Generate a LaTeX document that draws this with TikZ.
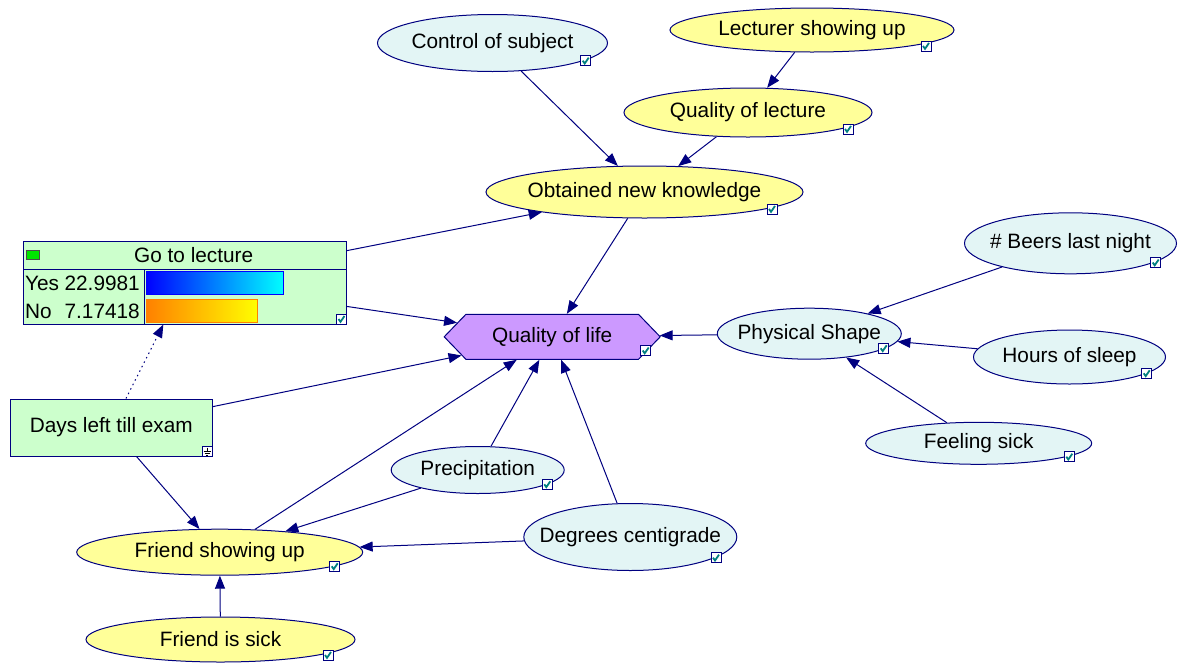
\documentclass[tikz,border=0pt]{standalone}
\usepackage{fontspec}
\setmainfont{Liberation Sans}
\usetikzlibrary{shapes.geometric,shapes.symbols,arrows.meta}
\definecolor{navy}{HTML}{000080}
\definecolor{yelfill}{HTML}{FFFF99}
\definecolor{cynfill}{HTML}{E3F5F5}
\definecolor{grnfill}{HTML}{CCFFCC}
\definecolor{purpfill}{HTML}{CC99FF}
\definecolor{chkteal}{HTML}{008080}
\definecolor{barorange}{HTML}{FF8000}
\newcommand\fsz{\fontsize{20.8}{24}\selectfont}
\newcommand\nw[1]{\makebox[0pt][c]{#1}}
\tikzset{
  ell/.style={ellipse, draw=navy, line width=1pt, inner sep=0pt, font=\fsz, text=black},
  yel/.style={ell, fill=yelfill},
  cyn/.style={ell, fill=cynfill},
  conn/.style={draw=navy, line width=1pt, -{Triangle[length=13pt,width=10pt]}},
  txt/.style={inner sep=0pt, font=\fsz, text=black},
  chk/.pic={
    \draw[navy, line width=1pt, fill=white] (-5,-5) rectangle (5,5);
    \draw[chkteal, line width=1.8pt] (-3,0) -- (-1,2.8) -- (3,-3);
  },
  gnd/.pic={
    \draw[navy, line width=1pt, fill=white] (-5,-5) rectangle (5,5);
    \draw[black, line width=0.8pt] (0,-4) -- (0,0) (-3.5,0) -- (3.5,0) (-2.5,2) -- (2.5,2) (-1,4) -- (1,4);
  }
}
\begin{document}
\begin{tikzpicture}[x=1pt,y=-1pt]
\useasboundingbox[fill=white] (0,0) rectangle (1186,670);

% ellipse nodes
\node[cyn, minimum width=230, minimum height=57] (ctrl) at (492.5,43) {\nw{Control of subject}};
\node[yel, minimum width=284, minimum height=44] (lect) at (812,30) {\nw{Lecturer showing up}};
\node[yel, minimum width=248, minimum height=49] (qlec) at (748,112.5) {\nw{Quality of lecture}};
\node[yel, minimum width=317, minimum height=52] (obt) at (644.5,192) {\nw{Obtained new knowledge}};
\node[cyn, minimum width=184, minimum height=51] (phys) at (809.3,333.7) {\nw{Physical Shape}};
\node[cyn, minimum width=212, minimum height=61] (beer) at (1070.5,243.3) {\nw{\# Beers last night}};
\node[cyn, minimum width=192, minimum height=54] (hrs) at (1069.5,357) {\nw{Hours of sleep}};
\node[cyn, minimum width=226, minimum height=42] (feel) at (978.7,443.3) {\nw{Feeling sick}};
\node[cyn, minimum width=173, minimum height=47] (prec) at (477.7,470) {\nw{Precipitation}};
\node[cyn, minimum width=213, minimum height=67] (deg) at (630.3,537) {\nw{Degrees centigrade}};
\node[yel, minimum width=286, minimum height=46] (fsu) at (219.7,552.2) {\nw{Friend showing up}};
\node[yel, minimum width=269, minimum height=45] (fis) at (220.5,639.5) {\nw{Friend is sick}};

% hexagon
\node[signal, signal to=east and west, signal pointer angle=92, draw=navy, fill=purpfill,
      line width=1pt, minimum width=216, minimum height=45, inner sep=0pt, font=\fsz] (qol)
      at (552.2,336.8) {Quality of life};

% Days left box
\node[rectangle, draw=navy, fill=grnfill, line width=1pt, minimum width=202, minimum height=57,
      inner sep=0pt, font=\fsz] (days) at (111.3,427.5) {Days left till exam};

% Go to lecture box
\node[rectangle, draw=navy, fill=grnfill, line width=1pt, minimum width=323, minimum height=83,
      inner sep=0pt] (go) at (184.5,282.5) {};
\draw[navy, line width=1pt] (23,269) -- (346,269) (144,269) -- (144,324);
\draw[black!70, fill={rgb,255:red,0;green,230;blue,0}, line width=0.8pt] (26,250) rectangle (39,259);
\node[txt] (golbl) at (193.7,255) {Go to lecture};
\node[txt, anchor=west] (yeslbl) at (25,283) {Yes};
\node[txt, anchor=east] (yesval) at (140,283) {22.9981};
\node[txt, anchor=west] (nolbl) at (25,311) {No};
\node[txt, anchor=east] (noval) at (140,311) {7.17418};
\shade[left color=blue, right color=cyan] (146,271) rectangle (283.7,294.3);
\draw[blue, line width=1pt] (146,271) rectangle (283.7,294.3);
\shade[left color=barorange, right color=yellow] (146,299) rectangle (257.7,322.5);
\draw[barorange, line width=1pt] (146,299) rectangle (257.7,322.5);

% icons
\pic at (585.7,60.7) {chk};
\pic at (926,46) {chk};
\pic at (848,129) {chk};
\pic at (772,209) {chk};
\pic at (883.7,348.3) {chk};
\pic at (1155.7,262.5) {chk};
\pic at (1146.7,373.3) {chk};
\pic at (1069.3,456.7) {chk};
\pic at (547.3,484.3) {chk};
\pic at (716,557.7) {chk};
\pic at (334.7,566.3) {chk};
\pic at (328,655) {chk};
\pic at (645.7,350.5) {chk};
\pic at (341.5,319) {chk};
\pic at (207,451.5) {gnd};

% connectors
\draw[conn] (ctrl) -- (obt);
\draw[conn] (lect) -- (qlec);
\draw[conn] (qlec) -- (obt);
\draw[conn] (obt) -- (qol);
\draw[conn] (go) -- (obt);
\draw[conn] (go) -- (qol);
\draw[conn] (days) -- (qol);
\draw[conn, dash pattern=on 1.5pt off 3.5pt] (days) -- (go);
\draw[conn] (days) -- (fsu);
\draw[conn] (fsu) -- (qol);
\draw[conn] (prec) -- (qol);
\draw[conn] (prec) -- (fsu);
\draw[conn] (deg) -- (qol);
\draw[conn] (deg) -- (fsu);
\draw[conn] (fis) -- (fsu);
\draw[conn] (phys) -- (qol);
\draw[conn] (beer) -- (phys);
\draw[conn] (hrs) -- (phys);
\draw[conn] (feel) -- (phys);
\end{tikzpicture}
\end{document}
